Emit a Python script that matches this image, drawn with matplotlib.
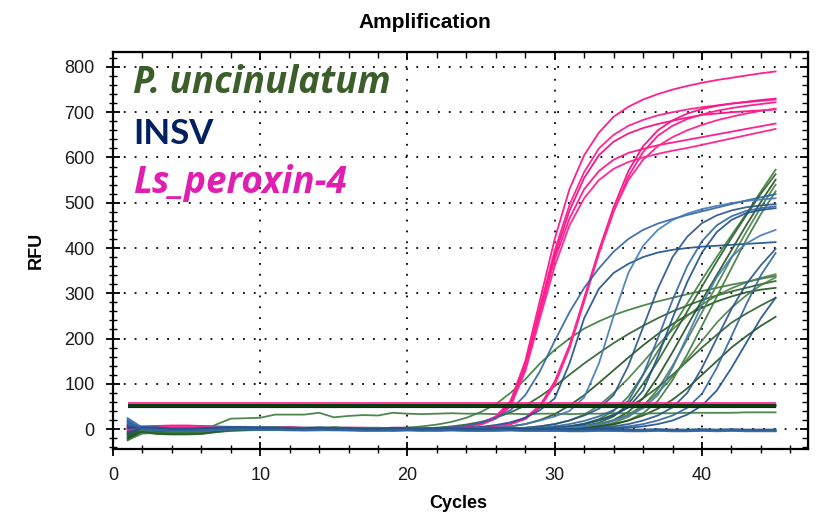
import matplotlib
matplotlib.use("Agg")
import matplotlib.pyplot as plt
from matplotlib.ticker import MultipleLocator
import numpy as np

# ---- data (RFU per cycle) ----
cycles = list(range(1, 46))

# shared near-zero baselines per dye group (cycle 1, 2, ...)
pink_base = [4, 3, 4, 5, 5, 4, 3, 2, 1, 0, 0, 1, 0, 0, -1, 0, 0, -1, 0, 0, 0, 0]
blue_base = [6, 2, 1, -1, -1, 0, 1, 2, 2, 1, 1, 0, 0, 1, 0, 0, -1, -1, 0, 0, -1, 0, 0,
             -1, -1, 0, 0, -1, -1, -1, -2, -2, -1, -1, -2, -2, -1, -2, -2, -1, -2, -1, -2, -2, -2]
green_base = [-6, -4, -8, -9, -9, -8, -4, -1, 0, 1, 1, 1, 0, 0, 1, 0, 0, 0, -1, 0, 0, -1, 0,
              0, -1, -1, 0, -1, -1, -1, -2, -1, -1, -2, -1, -2, -1, -1, -2, -1, -2, -1, -1, -1, -1]

# Ls_peroxin-4 wells: first cycle value, baseline shift, cycle where rise starts, values from there to 45
pink_first = [6, 2, 10, -4, 4, 8, 0, 12]
pink_shift = [1, 2, 0, 3, 1, 2, 0, 1]
pink_start = [21, 21, 21, 21, 21, 23, 23, 23]
pink_rfu = [
    [1, 2, 3, 6, 13, 28, 62, 150, 285, 420, 530, 605, 655, 690, 712, 728, 740, 750, 758, 765, 771, 776, 781, 786, 790],
    [1, 2, 3, 6, 12, 27, 58, 142, 270, 395, 495, 568, 620, 650, 670, 683, 693, 700, 706, 711, 715, 719, 722, 725, 728],
    [1, 2, 3, 5, 11, 25, 55, 138, 262, 385, 482, 555, 605, 635, 653, 665, 674, 681, 688, 694, 697, 700, 702, 704, 706],
    [1, 2, 3, 5, 11, 24, 53, 135, 258, 375, 465, 530, 570, 595, 610, 619, 627, 633, 639, 645, 651, 657, 663, 669, 675],
    [1, 1, 2, 5, 10, 23, 50, 128, 245, 360, 450, 510, 550, 575, 590, 600, 608, 615, 621, 628, 635, 642, 649, 656, 663],
    [1, 2, 3, 6, 12, 25, 52, 105, 185, 290, 395, 490, 570, 625, 660, 682, 697, 707, 714, 719, 723, 727, 730],
    [1, 1, 3, 5, 11, 22, 48, 98, 178, 282, 388, 480, 558, 612, 648, 670, 685, 695, 703, 709, 714, 718, 722],
    [1, 1, 2, 5, 11, 24, 50, 102, 182, 285, 390, 482, 550, 595, 625, 645, 660, 672, 682, 690, 697, 703, 708],
]

# INSV wells
blue_first = [24, 18, 12, 8, 20, 4, 15, -6, 10, 2, 22, -10, 16]
blue_shift = [1, -1, 2, 0, -2, 1, 3, -1, 0, 2, -3, 1, -2]
blue_start = [21, 23, 25, 27, 28, 29, 30, 32, 33, 34, 46, 46, 46]
blue_rfu = [
    [1, 2, 4, 8, 14, 25, 42, 75, 128, 195, 258, 312, 355, 392, 420, 440, 454, 464, 473, 481, 489, 497, 505, 512, 519],
    [1, 3, 5, 9, 15, 25, 42, 68, 145, 245, 310, 345, 365, 380, 390, 396, 400, 403, 405, 407, 409, 411, 413],
    [1, 3, 6, 11, 19, 28, 40, 70, 145, 250, 345, 405, 440, 462, 476, 486, 493, 499, 504, 507, 510],
    [1, 3, 6, 11, 19, 30, 45, 75, 140, 225, 310, 380, 425, 455, 472, 483, 490, 494, 497],
    [1, 3, 6, 11, 18, 28, 42, 62, 120, 200, 285, 360, 415, 450, 470, 482, 488, 492],
    [1, 3, 6, 11, 19, 30, 48, 85, 160, 245, 325, 390, 435, 462, 477, 484, 488],
    [1, 3, 6, 11, 19, 30, 46, 75, 135, 205, 275, 335, 380, 410, 428, 440],
    [1, 3, 6, 11, 19, 30, 48, 80, 135, 200, 265, 320, 362, 398],
    [1, 3, 6, 11, 19, 30, 47, 78, 135, 205, 275, 340, 389],
    [1, 3, 6, 11, 19, 32, 52, 85, 135, 190, 245, 290],
    [], [], [],
]

# P. uncinulatum wells
green_first = [-25, -18, -12, -6, 2, -15, -20, -8, 5, -10, -22, 0, -24, -14]
green_shift = [0, 2, -2, 1, -1, 3, 0, -3, 1, 2, -1, 0, 0, -2]
green_start = [19, 21, 25, 27, 29, 30, 30, 31, 31, 29, 31, 30, 2, 46]
green_rfu = [
    [1, 3, 6, 10, 16, 25, 38, 55, 80, 110, 145, 175, 200, 222, 238, 252, 263, 273, 282, 290, 298, 305, 312, 319, 325, 332, 338],
    [1, 3, 6, 10, 16, 25, 37, 52, 72, 95, 120, 145, 168, 190, 210, 228, 245, 260, 273, 285, 295, 304, 312, 320, 327],
    [1, 3, 6, 11, 20, 33, 52, 75, 102, 130, 158, 185, 210, 232, 252, 268, 282, 293, 302, 308, 312],
    [1, 3, 6, 11, 19, 32, 52, 80, 112, 148, 185, 220, 250, 275, 295, 311, 324, 334, 342],
    [1, 3, 6, 12, 22, 40, 72, 120, 172, 225, 278, 330, 380, 428, 475, 525, 573],
    [1, 3, 7, 14, 28, 55, 100, 150, 205, 260, 315, 370, 422, 472, 520, 563],
    [1, 2, 5, 10, 20, 38, 68, 115, 170, 228, 285, 340, 395, 450, 502, 551],
    [1, 3, 7, 14, 27, 50, 88, 140, 198, 258, 318, 378, 435, 490, 540],
    [1, 2, 5, 10, 19, 35, 62, 108, 165, 228, 292, 355, 418, 475, 525],
    [1, 3, 6, 11, 20, 32, 48, 68, 92, 120, 150, 180, 208, 235, 255, 273, 290],
    [1, 3, 6, 11, 19, 30, 45, 65, 90, 120, 150, 180, 205, 228, 248],
    [1, 3, 6, 11, 19, 32, 52, 80, 115, 155, 195, 235, 268, 295, 318, 335],
    [-10, -8, -7, -6, -5, 10, 23, 24, 25, 32, 32, 32, 36, 26, 29, 31, 30, 36, 34, 33, 34, 35,
     34, 34, 33, 34, 33, 34, 34, 33, 34, 34, 35, 35, 34, 35, 35, 36, 36, 36, 36, 37, 37, 37],
    [],
]

threshold_rfu = [52, 53, 57]
threshold_colors = ["#002a55", "#0f3a12", "#ff1f8e"]
threshold_widths = [3.0, 2.4, 1.2]

labels = ["P. uncinulatum", "INSV", "Ls_peroxin-4"]
label_colors = ["#3b5e2b", "#002060", "#e01fb0"]
label_styles = ["italic", "normal", "italic"]
label_fonts = ["Open Sans", "Lato", "Open Sans"]
label_sizes = [26.5, 25, 26.5]

pink_colors = ["#ff1f8e", "#ff2894", "#f7198a"]
blue_colors = ["#2f63a0", "#1c4f8c", "#4479b5", "#285386"]
green_colors = ["#3d7a3d", "#2a5e2a", "#1f521f", "#4b8048"]


def build(first, base, shift, start, vals):
    head = [b + shift for b in base[1:start - 1]]
    return [first] + head + vals


fig = plt.figure(figsize=(8.18, 5.15), dpi=100)
ax = fig.add_axes([113 / 818, 1 - 449 / 515, (808 - 113) / 818, (449 - 52) / 515])

for i, vals in enumerate(green_rfu):
    y = build(green_first[i], green_base, green_shift[i], green_start[i], vals)
    ax.plot(cycles[:len(y)], y, color=green_colors[i % 4], lw=1.3, alpha=0.9)
for i, vals in enumerate(pink_rfu):
    y = build(pink_first[i], pink_base, pink_shift[i], pink_start[i], vals)
    ax.plot(cycles[:len(y)], y, color=pink_colors[i % 3], lw=1.3)
for i, vals in enumerate(blue_rfu):
    y = build(blue_first[i], blue_base, blue_shift[i], blue_start[i], vals)
    ax.plot(cycles[:len(y)], y, color=blue_colors[i % 4], lw=1.3, alpha=0.9)

for t, c, w in zip(threshold_rfu, threshold_colors, threshold_widths):
    ax.hlines(t, cycles[0], cycles[-1], color=c, lw=w, zorder=5)

ax.set_xlim(0, 47.2)
ax.set_ylim(-44, 833)

ax.xaxis.set_major_locator(MultipleLocator(10))
ax.xaxis.set_minor_locator(MultipleLocator(2))
ax.yaxis.set_major_locator(MultipleLocator(100))
ax.yaxis.set_minor_locator(MultipleLocator(20))
ax.grid(which="major", color="black", linestyle=(0, (1, 5)), linewidth=1.3)

ax.tick_params(which="major", direction="inout", length=10.5, width=1.3,
               labelsize=13, pad=8, labelcolor="#1a1a1a")
ax.tick_params(which="minor", direction="inout", length=6, width=1.0)
for lab in ax.get_xticklabels() + ax.get_yticklabels():
    lab.set_fontfamily("Liberation Sans")
for s in ax.spines.values():
    s.set_linewidth(1.6)

secx = ax.secondary_xaxis("top")
secx.xaxis.set_major_locator(MultipleLocator(10))
secx.xaxis.set_minor_locator(MultipleLocator(2))
secx.tick_params(which="major", direction="in", length=6, width=1.3, labeltop=False)
secx.tick_params(which="minor", direction="in", length=4, width=1.0)
secy = ax.secondary_yaxis("right")
secy.yaxis.set_major_locator(MultipleLocator(100))
secy.yaxis.set_minor_locator(MultipleLocator(20))
secy.tick_params(which="major", direction="in", length=6, width=1.3, labelright=False)
secy.tick_params(which="minor", direction="in", length=4, width=1.0)

# species / target labels
label_y = [742, 629, 522]
for txt, c, st, fam, sz, yy in zip(labels, label_colors, label_styles, label_fonts, label_sizes, label_y):
    ax.text(1.36, yy, txt, color=c, fontsize=sz, fontweight="bold", style=st,
            family=fam, va="baseline", ha="left")

fig.text(424.5 / 818, 1 - 28 / 515, "Amplification", ha="center", va="baseline",
         fontsize=15, fontweight="bold", family="Liberation Sans")
fig.text(36 / 818, 1 - 250 / 515, "RFU", ha="center", va="center", rotation=90,
         fontsize=13, fontweight="bold", family="Liberation Sans")
fig.text(458 / 818, 1 - 504 / 515, "Cycles", ha="center", va="center",
         fontsize=13, fontweight="bold", family="Liberation Sans")

fig.savefig("out.png", dpi=100)
